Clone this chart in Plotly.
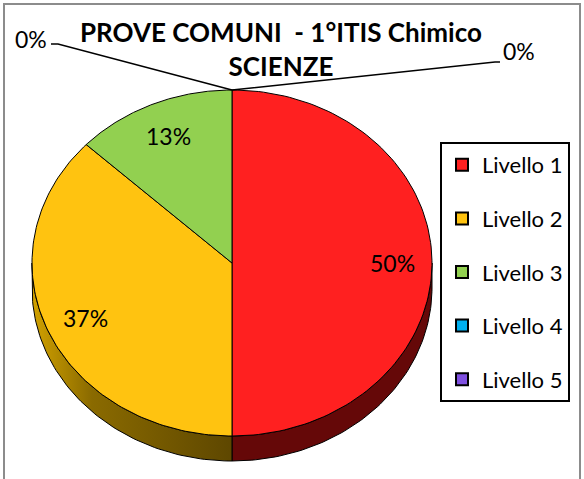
import numpy as np
import plotly.graph_objects as go

# data
levels = ["Livello 1", "Livello 2", "Livello 3", "Livello 4", "Livello 5"]
shares = [50, 37, 13, 0, 0]
colors = ["#FF2020", "#FFC310", "#92D050", "#00B0F0", "#7F50E0"]
side_colors = ["#650808", "#6B5000", "#4F7A20", "#006890", "#40207A"]

title = "<b>PROVE COMUNI  - 1°ITIS Chimico<br>SCIENZE</b>"

# geometry of the tilted pie (screen pixels, y pointing down)
cx, cy, rx, ry, depth = 232, 263, 200, 173, 25
FONT = "Lato, 'Open Sans', sans-serif"


def pt(deg, dy=0.0, r=1.0):
    t = np.radians(deg)
    return cx + rx * r * np.sin(t), cy - ry * r * np.cos(t) + dy


fig = go.Figure()

total = sum(shares)
bounds = np.concatenate([[0], np.cumsum(shares)]) / total * 360

# visible side walls (front half: 90..270 deg, clockwise from top)
for i, (a0, a1) in enumerate(zip(bounds[:-1], bounds[1:])):
    s0, s1 = max(a0, 90), min(a1, 270)
    if s1 <= s0:
        continue
    ang = np.linspace(s0, s1, 80)
    xt, yt = pt(ang)
    xb, yb = pt(ang[::-1], depth)
    xs = np.concatenate([xt, xb, xt[:1]])
    ys = np.concatenate([yt, yb, yt[:1]])
    kw = dict(fillcolor=side_colors[i])
    if i == 1:
        kw = dict(fillgradient=dict(type="horizontal",
                                    colorscale=[[0, "#D2A200"], [0.3, "#8A6A00"], [1, "#5E4700"]]))
    fig.add_trace(go.Scatter(x=xs, y=ys, mode="lines", fill="toself",
                             line=dict(color="black", width=1),
                             hoverinfo="skip", showlegend=False, **kw))

# top faces
for i, (a0, a1) in enumerate(zip(bounds[:-1], bounds[1:])):
    if a1 <= a0:
        continue
    ang = np.linspace(a0, a1, 120)
    xa, ya = pt(ang)
    xs = np.concatenate([[cx], xa, [cx]])
    ys = np.concatenate([[cy], ya, [cy]])
    fig.add_trace(go.Scatter(x=xs, y=ys, mode="lines", fill="toself",
                             fillcolor=colors[i], line=dict(color="black", width=1),
                             name=levels[i], hoverinfo="name", showlegend=False))

# data labels inside the slices
for i, (a0, a1) in enumerate(zip(bounds[:-1], bounds[1:])):
    if shares[i] == 0:
        continue
    mid = (a0 + a1) / 2
    lx, ly = pt(mid, r=0.8)
    fig.add_annotation(x=lx, y=ly, text=f"{shares[i]}%", showarrow=False,
                       font=dict(size=23, color="black", family=FONT))

# zero-value labels with leader lines
tx, ty = pt(0)
fig.add_shape(type="path", path=f"M {tx},{ty} L 58,44 L 51,44",
              line=dict(color="black", width=1.5))
fig.add_shape(type="path", path=f"M {tx},{ty} L 495,62 L 500,62",
              line=dict(color="black", width=1.5))
fig.add_annotation(x=31, y=39, text="0%", showarrow=False,
                   font=dict(size=23, color="black", family=FONT))
fig.add_annotation(x=519, y=51, text="0%", showarrow=False,
                   font=dict(size=23, color="black", family=FONT))

# legend entries
for i, name in enumerate(levels):
    fig.add_trace(go.Scatter(x=[None], y=[None], mode="markers", name=name,
                             legendgroup=name,
                             marker=dict(symbol="square", size=13, color=colors[i],
                                         line=dict(color="black", width=1.5))))

fig.add_annotation(x=281, y=49, text=title, showarrow=False,
                   font=dict(size=26, color="black", family=FONT))

fig.add_shape(type="rect", xref="paper", yref="paper", x0=4 / 584, x1=580 / 584,
              y0=-0.05, y1=1 - 4 / 479, line=dict(color="#8C8C8C", width=2))

fig.update_layout(
    width=584, height=479,
    margin=dict(l=0, r=0, t=0, b=0),
    paper_bgcolor="white", plot_bgcolor="white",
    xaxis=dict(range=[0, 584], visible=False, fixedrange=True),
    yaxis=dict(range=[479, 0], visible=False, fixedrange=True),
    showlegend=True,
    legend=dict(x=440 / 584, y=1 - 142 / 479, xanchor="left", yanchor="top",
                bordercolor="black", borderwidth=2, bgcolor="white",
                font=dict(size=22, color="black", family=FONT),
                traceorder="grouped", tracegroupgap=22, itemsizing="constant",
                itemwidth=30),
)

fig.write_html("out.html", config={"displayModeBar": False},
               post_script="document.body.style.margin='0';")
